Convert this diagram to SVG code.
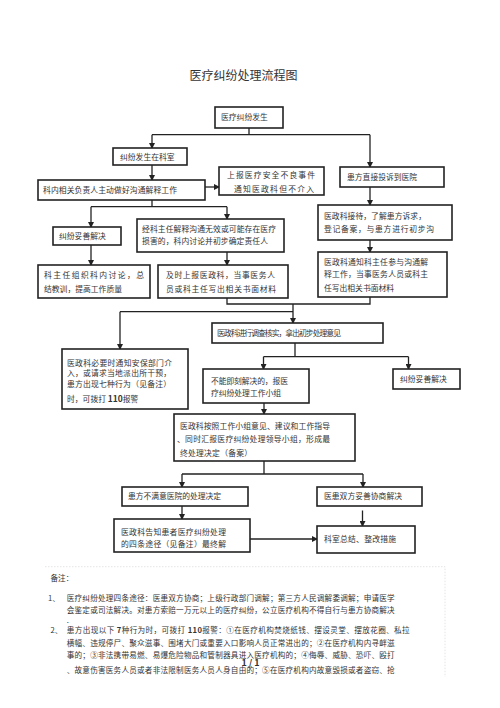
<svg xmlns="http://www.w3.org/2000/svg" width="500" height="708" viewBox="0 0 500 708">
<defs>
<style>
text{font-family:"Noto Sans CJK SC","Noto Sans",sans-serif;fill:#333;}
.t{font-size:7.8px;}
.n{font-size:7.6px;}
.box{fill:#fff;stroke:#222;stroke-width:1.6;}
.ln{fill:none;stroke:#222;stroke-width:1.3;}
.ar{fill:none;stroke:#222;stroke-width:1.3;marker-end:url(#ah);}
</style>
<marker id="ah" markerUnits="userSpaceOnUse" markerWidth="6" markerHeight="6" refX="5" refY="3" orient="auto">
<path d="M0,0 L6,3 L0,6 z" fill="#222"/>
</marker>
</defs>
<rect width="500" height="708" fill="#fff"/>
<text x="243.5" y="80" font-size="12" text-anchor="middle">医疗纠纷处理流程图</text>

<g id="connectors">
<path class="ln" d="M249,128 V134.7 M152,134.7 H370"/>
<path class="ar" d="M152,134.7 V148"/>
<path class="ar" d="M370,134.7 V167"/>
<path class="ar" d="M152,165 V180"/>
<path class="ar" d="M205,187 H219"/>
<path class="ln" d="M152,200 V206.7 M91,206.7 H227"/>
<path class="ar" d="M91,206.7 V227"/>
<path class="ar" d="M227,206.7 V219"/>
<path class="ar" d="M91,245 V265"/>
<path class="ar" d="M227,252 V265"/>
<path class="ar" d="M370,187 V205"/>
<path class="ar" d="M370,240 V252"/>
<path class="ln" d="M227,298 V304 H370 V297 M120,311.7 H293"/>
<path class="ar" d="M293,304 V323"/>
<path class="ar" d="M120,311.7 V349"/>
<path class="ln" d="M295,343 V356.7 M263.5,356.7 H408.5"/>
<path class="ar" d="M263.5,356.7 V369"/>
<path class="ar" d="M408.5,356.7 V369"/>
<path class="ar" d="M264,403 V414"/>
<path class="ln" d="M264,461 V474 M182,474 H363"/>
<path class="ar" d="M182,474 V487"/>
<path class="ar" d="M363,474 V487"/>
<path class="ar" d="M182,506 V519"/>
<path class="ar" d="M362.5,510.5 V526"/>
<path class="ar" d="M250,539 H317"/>
</g>

<g id="n1"><rect class="box" x="215" y="107" width="68" height="21"/><text class="t" x="221" y="120.3">医疗纠纷发生</text></g>
<g id="n2"><rect class="box" x="113" y="148" width="74" height="17"/><text class="t" x="120" y="159.5">纠纷发生在科室</text></g>
<g id="n3"><rect class="box" x="38" y="180" width="167" height="20"/><text class="t" x="43" y="193" textLength="134">科内相关负责人主动做好沟通解释工作</text></g>
<g id="n4"><rect class="box" x="219" y="167" width="105" height="28"/><text class="t" x="227" y="178.3" textLength="88">上报医疗安全不良事件</text><text class="t" x="234" y="192" textLength="80">通知医政科但不介入</text></g>
<g id="n5"><rect class="box" x="340" y="167" width="104" height="20"/><text class="t" x="347" y="180">患方直接投诉到医院</text></g>
<g id="n6"><rect class="box" x="53" y="227" width="68" height="18"/><text class="t" x="59" y="239">纠纷妥善解决</text></g>
<g id="n7"><rect class="box" x="137" y="219" width="147" height="33"/><text class="t" x="142" y="232" textLength="134">经科主任解释沟通无效或可能存在医疗</text><text class="t" x="142" y="243.5" textLength="126">损害的，科内讨论并初步确定责任人</text></g>
<g id="n8"><rect class="box" x="318" y="205" width="134" height="35"/><text class="t" x="324" y="219" textLength="102">医政科接待，了解患方诉求，</text><text class="t" x="324" y="232" textLength="110">登记备案，与患方进行初步沟</text></g>
<g id="n9"><rect class="box" x="38" y="265" width="112" height="33"/><text class="t" x="44" y="277.5" textLength="100">科主任组织科内讨论，总</text><text class="t" x="44" y="292" textLength="78">结教训，提高工作质量</text></g>
<g id="n10"><rect class="box" x="158" y="265" width="130" height="33"/><text class="t" x="166" y="277.5" textLength="109">及时上报医政科，当事医务人</text><text class="t" x="166" y="292" textLength="110">员或科主任写出相关书面材料</text></g>
<g id="n11"><rect class="box" x="318" y="252" width="129" height="45"/><text class="t" x="324" y="264.5" textLength="104">医政科通知科主任参与沟通解</text><text class="t" x="324" y="277" textLength="104">释工作，当事医务人员或科主</text><text class="t" x="324" y="291" textLength="70">任写出相关书面材料</text></g>
<g id="n12"><rect class="box" x="212" y="323" width="171" height="20"/><text class="t" x="217" y="336" textLength="124">医政科进行调查核实，拿出初步处理意见</text></g>
<g id="n13"><rect class="box" x="62" y="349" width="126" height="60"/><text class="t" x="67" y="365.5" textLength="105">医政科必要时通知安保部门介</text><text class="t" x="67" y="376" textLength="104">入，或请求当地派出所干预，</text><text class="t" x="67" y="387" textLength="104">患方出现七种行为（见备注）</text><text class="t" x="67" y="402">时，可拨打  <tspan font-weight="bold" font-size="8.5">110</tspan>报警</text></g>
<g id="n14"><rect class="box" x="203" y="369" width="106" height="34"/><text class="t" x="211" y="383.5" textLength="77">不能即刻解决的，报医</text><text class="t" x="211" y="396" textLength="70">疗纠纷处理工作小组</text></g>
<g id="n15"><rect class="box" x="393" y="369" width="67" height="20"/><text class="t" x="400" y="382">纠纷妥善解决</text></g>
<g id="n16"><rect class="box" x="174" y="414" width="181" height="47"/><text class="t" x="180" y="429" textLength="150">医政科按照工作小组意见、建议和工作指导</text><text class="t" x="177" y="442" textLength="153">、同时汇报医疗纠纷处理领导小组，形成最</text><text class="t" x="180" y="455.5" textLength="72">终处理决定（备案）</text></g>
<g id="n17"><rect class="box" x="122" y="487" width="126" height="19"/><text class="t" x="128" y="499" textLength="93">患方不满意医院的处理决定</text></g>
<g id="n18"><rect class="box" x="317" y="487" width="105" height="19"/><text class="t" x="324" y="499" textLength="78">医患双方妥善协商解决</text></g>
<g id="n19"><rect class="box" x="114" y="519" width="136" height="33"/><text class="t" x="121" y="534.5" textLength="105">医政科告知患者医疗纠纷处理</text><text class="t" x="121" y="547" textLength="105">的四条途径（见备注）最终解</text></g>
<g id="n20"><rect class="box" x="317" y="526" width="98" height="27"/><text class="t" x="324" y="542" textLength="72">科室总结、整改措施</text></g>

<g id="notes">
<path d="M45,566.7 H445 V677" fill="none" stroke="#ddd" stroke-width="0.8" stroke-dasharray="1.5,1.5"/>
<text class="n" x="50.5" y="581">备注：</text>
<text class="n" x="48" y="601">1、</text>
<text class="n" x="66.7" y="601" textLength="328">医疗纠纷处理四条途径：医患双方协商；上级行政部门调解；第三方人民调解委调解；申请医学</text>
<text class="n" x="66.7" y="613" textLength="328">会鉴定或司法解决。对患方索赔一万元以上的医疗纠纷，公立医疗机构不得自行与患方协商解决</text>
<text class="n" x="66.7" y="622.5">.</text>
<text class="n" x="50.5" y="633">2、</text>
<text class="n" x="66.7" y="633" textLength="343">患方出现以下   <tspan font-weight="bold">7</tspan>种行为时，可拨打   <tspan font-weight="bold">110</tspan>报警：①在医疗机构焚烧纸钱、摆设灵堂、摆放花圈、私拉</text>
<text class="n" x="66.7" y="645.5" textLength="328">横幅、违规停尸、聚众滋事、围堵大门或重要入口影响人员正常进出的；②在医疗机构内寻衅滋</text>
<text class="n" x="66.7" y="658" textLength="328">事的；③非法携带易燃、易爆危险物品和管制器具进入医疗机构的；④侮辱、威胁、恐吓、殴打</text>
<text class="n" x="66.7" y="672.5" textLength="328">、故意伤害医务人员或者非法限制医务人员人身自由的；⑤在医疗机构内故意毁损或者盗窃、抢</text>
<text x="250.5" y="665.5" font-size="9" font-weight="bold" text-anchor="middle">1 / 1</text>
</g>
</svg>
